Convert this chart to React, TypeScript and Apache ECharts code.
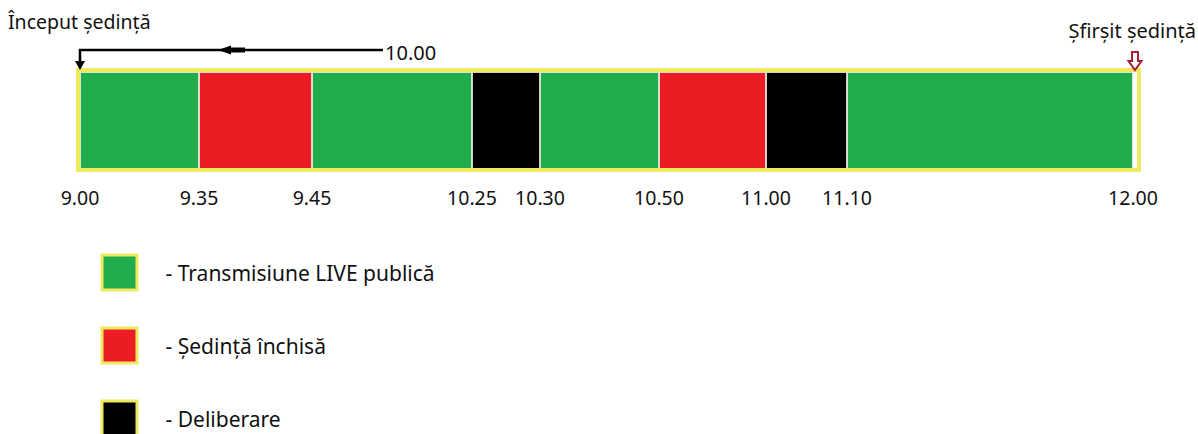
import React, { useEffect, useRef } from "react";
import * as echarts from "echarts";

// Timeline data (segment lengths are the drawn lengths of the schematic)
const timeLabels = ["9.00", "9.35", "9.45", "10.25", "10.30", "10.50", "11.00", "11.10", "12.00"];
const segmentKinds = ["live", "closed", "live", "deliberation", "live", "closed", "deliberation", "live"];
const segmentLengths = [119, 113, 160, 68, 119, 107, 81, 286];
const legendOrder = ["live", "closed", "deliberation"];
const kindNames: Record<string, string> = {
  live: "Transmisiune LIVE publică",
  closed: "Ședință închisă",
  deliberation: "Deliberare",
};
const startText = "Început ședință";
const endText = "Șfirșit ședință";
const markerText = "10.00";

const kindColors: Record<string, string> = {
  live: "#22ad4c",
  closed: "#ec1c24",
  deliberation: "#000000",
};
const FONT = "Noto Sans";
const YELLOW = "#efe960";
const TEXT = "#111111";

export default function App() {
  const ref = useRef<HTMLDivElement>(null);

  useEffect(() => {
    document.body.style.margin = "0";
    if (!ref.current) return;
    const chart = echarts.init(ref.current, undefined, { renderer: "svg" });

    const boundaries: number[] = [0];
    segmentLengths.forEach((l, i) => boundaries.push(boundaries[i] + l));
    const total = boundaries[boundaries.length - 1];

    const series = segmentLengths.map((len, i) => ({
      type: "bar",
      name: kindNames[segmentKinds[i]],
      stack: "timeline",
      data: [len],
      barWidth: "100%",
      silent: true,
      itemStyle: {
        color: kindColors[segmentKinds[i]],
        borderColor: "rgba(235,235,220,0.75)",
        borderWidth: 1,
      },
    }));

    chart.setOption({
      animation: false,
      grid: { left: 80, top: 72, width: 1053, height: 98 },
      xAxis: {
        type: "value",
        min: 0,
        max: total,
        axisLine: { show: false },
        axisTick: { show: false },
        splitLine: { show: false },
        axisLabel: {
          customValues: boundaries,
          formatter: (v: number) => {
            const idx = boundaries.indexOf(Math.round(v));
            return idx >= 0 ? timeLabels[idx] : "";
          },
          fontFamily: FONT,
          fontSize: 19.5,
          color: TEXT,
          margin: 17,
          showMinLabel: true,
          showMaxLabel: true,
        },
      },
      yAxis: { type: "category", data: [""], show: false },
      legend: {
        orient: "vertical",
        left: 100.5,
        top: 253.5,
        padding: 0,
        height: 320,
        itemWidth: 35,
        itemHeight: 35,
        itemGap: 35,
        selectedMode: false,
        data: legendOrder.map((k) => ({ name: kindNames[k], icon: "rect" })),
        itemStyle: { borderColor: YELLOW, borderWidth: 3 },
        formatter: (n: string) => "- " + n,
        textStyle: { fontFamily: FONT, fontSize: 21, color: TEXT, padding: [0, 0, 0, 23.5] },
      },
      graphic: [
        {
          type: "rect",
          z: 100,
          shape: { x: 78, y: 70, width: 1061, height: 100 },
          style: { fill: "none", stroke: YELLOW, lineWidth: 4 },
        },
        {
          type: "polyline",
          z: 100,
          shape: { points: [[383, 50], [80, 50], [80, 63]] },
          style: { stroke: "#000", lineWidth: 2.5, fill: "none" },
        },
        {
          type: "polygon",
          z: 100,
          shape: { points: [[75, 61], [85, 61], [80, 70]] },
          style: { fill: "#000" },
        },
        {
          type: "polygon",
          z: 100,
          shape: { points: [[218, 50], [231, 45.5], [231, 47.5], [245, 47.5], [245, 52.5], [231, 52.5], [231, 54.5]] },
          style: { fill: "#000" },
        },
        {
          type: "text",
          z: 100,
          style: { x: 385, y: 52, text: markerText, fontFamily: FONT, fontSize: 20, fill: TEXT, verticalAlign: "middle" },
        },
        {
          type: "text",
          z: 100,
          style: { x: 8, y: 21, text: startText, fontFamily: FONT, fontSize: 19.5, fill: TEXT, verticalAlign: "middle" },
        },
        {
          type: "text",
          z: 100,
          style: { x: 1196, y: 30, text: endText, fontFamily: FONT, fontSize: 20, fill: TEXT, align: "right", verticalAlign: "middle" },
        },
        {
          type: "polygon",
          z: 100,
          shape: {
            points: [[1132, 52], [1138, 52], [1138, 61], [1141.5, 61], [1135, 70], [1128.5, 61], [1132, 61]],
          },
          style: { fill: "#fff", stroke: "#a3223a", lineWidth: 2 },
        },
      ],
      series,
    });

    return () => chart.dispose();
  }, []);

  return <div ref={ref} style={{ width: 1198, height: 434 }} />;
}
